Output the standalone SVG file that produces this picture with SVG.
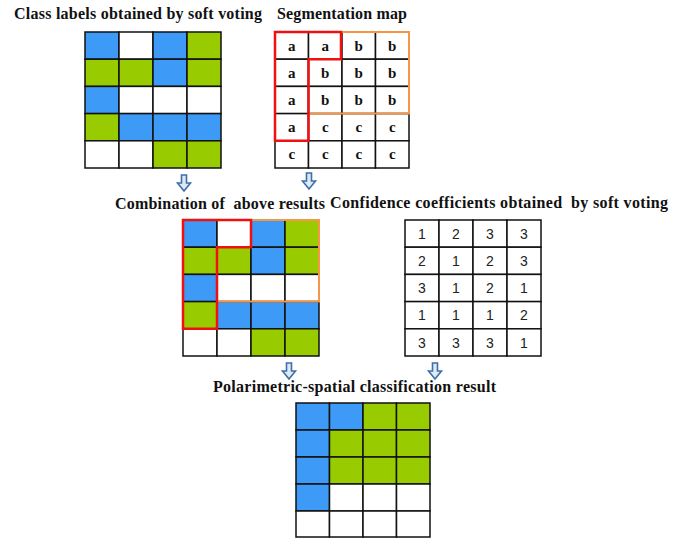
<svg xmlns="http://www.w3.org/2000/svg" width="685" height="538" viewBox="0 0 685 538">
<defs>
<style>
.t{font-family:"Liberation Serif","Times New Roman",serif;font-weight:bold;font-size:16px;fill:#111;white-space:pre}
.b{fill:#3d9bf7;stroke:#111;stroke-width:1.5}
.g{fill:#99cc00;stroke:#111;stroke-width:1.5}
.w{fill:#fff;stroke:#111;stroke-width:1.5}
.lt{font-family:"Liberation Serif","Times New Roman",serif;font-weight:bold;font-size:15px;fill:#111;text-anchor:middle}
.nm{font-family:"Liberation Sans",Arial,sans-serif;font-size:14px;fill:#222;text-anchor:middle}
.red{fill:none;stroke:#f01010;stroke-width:2.5}
.org{fill:none;stroke:#f79646;stroke-width:2}
.arr{fill:#dce9f7;stroke:#3f6ea8;stroke-width:1.6;stroke-linejoin:miter}
</style>
<path id="dn" class="arr" d="M-2.5,0 H2.5 V8 H6.5 L0,16 L-6.5,8 H-2.5 Z"/>
</defs>
<rect width="685" height="538" fill="#fff"/>

<g id="class-labels">
<text class="t" x="14" y="19" textLength="248" lengthAdjust="spacing">Class labels obtained by soft voting</text>
<rect class="b" x="85" y="32" width="34" height="27.2"/><rect class="w" x="119" y="32" width="34" height="27.2"/><rect class="b" x="153" y="32" width="34" height="27.2"/><rect class="g" x="187" y="32" width="34" height="27.2"/>
<rect class="g" x="85" y="59.2" width="34" height="27.2"/><rect class="g" x="119" y="59.2" width="34" height="27.2"/><rect class="b" x="153" y="59.2" width="34" height="27.2"/><rect class="g" x="187" y="59.2" width="34" height="27.2"/>
<rect class="b" x="85" y="86.4" width="34" height="27.2"/><rect class="w" x="119" y="86.4" width="34" height="27.2"/><rect class="w" x="153" y="86.4" width="34" height="27.2"/><rect class="w" x="187" y="86.4" width="34" height="27.2"/>
<rect class="g" x="85" y="113.6" width="34" height="27.2"/><rect class="b" x="119" y="113.6" width="34" height="27.2"/><rect class="b" x="153" y="113.6" width="34" height="27.2"/><rect class="b" x="187" y="113.6" width="34" height="27.2"/>
<rect class="w" x="85" y="140.8" width="34" height="27.2"/><rect class="w" x="119" y="140.8" width="34" height="27.2"/><rect class="g" x="153" y="140.8" width="34" height="27.2"/><rect class="g" x="187" y="140.8" width="34" height="27.2"/>
</g>

<g id="segmentation-map">
<text class="t" x="277" y="19" textLength="130" lengthAdjust="spacing">Segmentation map</text>
<rect class="w" x="275" y="32" width="33.5" height="27.2"/><rect class="w" x="308.5" y="32" width="33.5" height="27.2"/><rect class="w" x="342" y="32" width="33.5" height="27.2"/><rect class="w" x="375.5" y="32" width="33.5" height="27.2"/>
<rect class="w" x="275" y="59.2" width="33.5" height="27.2"/><rect class="w" x="308.5" y="59.2" width="33.5" height="27.2"/><rect class="w" x="342" y="59.2" width="33.5" height="27.2"/><rect class="w" x="375.5" y="59.2" width="33.5" height="27.2"/>
<rect class="w" x="275" y="86.4" width="33.5" height="27.2"/><rect class="w" x="308.5" y="86.4" width="33.5" height="27.2"/><rect class="w" x="342" y="86.4" width="33.5" height="27.2"/><rect class="w" x="375.5" y="86.4" width="33.5" height="27.2"/>
<rect class="w" x="275" y="113.6" width="33.5" height="27.2"/><rect class="w" x="308.5" y="113.6" width="33.5" height="27.2"/><rect class="w" x="342" y="113.6" width="33.5" height="27.2"/><rect class="w" x="375.5" y="113.6" width="33.5" height="27.2"/>
<rect class="w" x="275" y="140.8" width="33.5" height="27.2"/><rect class="w" x="308.5" y="140.8" width="33.5" height="27.2"/><rect class="w" x="342" y="140.8" width="33.5" height="27.2"/><rect class="w" x="375.5" y="140.8" width="33.5" height="27.2"/>
<text class="lt" x="291.75" y="50.6">a</text><text class="lt" x="325.25" y="50.6">a</text><text class="lt" x="358.75" y="50.6">b</text><text class="lt" x="392.25" y="50.6">b</text>
<text class="lt" x="291.75" y="77.8">a</text><text class="lt" x="325.25" y="77.8">b</text><text class="lt" x="358.75" y="77.8">b</text><text class="lt" x="392.25" y="77.8">b</text>
<text class="lt" x="291.75" y="105">a</text><text class="lt" x="325.25" y="105">b</text><text class="lt" x="358.75" y="105">b</text><text class="lt" x="392.25" y="105">b</text>
<text class="lt" x="291.75" y="132.2">a</text><text class="lt" x="325.25" y="132.2">c</text><text class="lt" x="358.75" y="132.2">c</text><text class="lt" x="392.25" y="132.2">c</text>
<text class="lt" x="291.75" y="159.4">c</text><text class="lt" x="325.25" y="159.4">c</text><text class="lt" x="358.75" y="159.4">c</text><text class="lt" x="392.25" y="159.4">c</text>
<path class="org" d="M342,32 H409 V113.6 H308.5"/>
<path class="red" d="M275,32 H341 V59.2 H308.5 V140.8 H275 Z"/>
</g>

<g id="combination">
<text class="t" x="115" y="209" textLength="210" lengthAdjust="spacing">Combination of  above results</text>
<rect class="b" x="183" y="220" width="34" height="27.2"/><rect class="w" x="217" y="220" width="34" height="27.2"/><rect class="b" x="251" y="220" width="34" height="27.2"/><rect class="g" x="285" y="220" width="34" height="27.2"/>
<rect class="g" x="183" y="247.2" width="34" height="27.2"/><rect class="g" x="217" y="247.2" width="34" height="27.2"/><rect class="b" x="251" y="247.2" width="34" height="27.2"/><rect class="g" x="285" y="247.2" width="34" height="27.2"/>
<rect class="b" x="183" y="274.4" width="34" height="27.2"/><rect class="w" x="217" y="274.4" width="34" height="27.2"/><rect class="w" x="251" y="274.4" width="34" height="27.2"/><rect class="w" x="285" y="274.4" width="34" height="27.2"/>
<rect class="g" x="183" y="301.6" width="34" height="27.2"/><rect class="b" x="217" y="301.6" width="34" height="27.2"/><rect class="b" x="251" y="301.6" width="34" height="27.2"/><rect class="b" x="285" y="301.6" width="34" height="27.2"/>
<rect class="w" x="183" y="328.8" width="34" height="27.2"/><rect class="w" x="217" y="328.8" width="34" height="27.2"/><rect class="g" x="251" y="328.8" width="34" height="27.2"/><rect class="g" x="285" y="328.8" width="34" height="27.2"/>
<path class="org" d="M251,220 H319 V301.6 H217"/>
<path class="red" d="M183,220 H251 V247.2 H217 V328.8 H183 Z"/>
</g>

<g id="confidence">
<text class="t" x="330" y="208" textLength="338" lengthAdjust="spacing">Confidence coefficients obtained  by soft voting</text>
<rect class="w" x="405" y="220" width="34" height="27.2"/><rect class="w" x="439" y="220" width="34" height="27.2"/><rect class="w" x="473" y="220" width="34" height="27.2"/><rect class="w" x="507" y="220" width="34" height="27.2"/>
<rect class="w" x="405" y="247.2" width="34" height="27.2"/><rect class="w" x="439" y="247.2" width="34" height="27.2"/><rect class="w" x="473" y="247.2" width="34" height="27.2"/><rect class="w" x="507" y="247.2" width="34" height="27.2"/>
<rect class="w" x="405" y="274.4" width="34" height="27.2"/><rect class="w" x="439" y="274.4" width="34" height="27.2"/><rect class="w" x="473" y="274.4" width="34" height="27.2"/><rect class="w" x="507" y="274.4" width="34" height="27.2"/>
<rect class="w" x="405" y="301.6" width="34" height="27.2"/><rect class="w" x="439" y="301.6" width="34" height="27.2"/><rect class="w" x="473" y="301.6" width="34" height="27.2"/><rect class="w" x="507" y="301.6" width="34" height="27.2"/>
<rect class="w" x="405" y="328.8" width="34" height="27.2"/><rect class="w" x="439" y="328.8" width="34" height="27.2"/><rect class="w" x="473" y="328.8" width="34" height="27.2"/><rect class="w" x="507" y="328.8" width="34" height="27.2"/>
<text class="nm" x="422" y="238.8">1</text><text class="nm" x="456" y="238.8">2</text><text class="nm" x="490" y="238.8">3</text><text class="nm" x="524" y="238.8">3</text>
<text class="nm" x="422" y="266">2</text><text class="nm" x="456" y="266">1</text><text class="nm" x="490" y="266">2</text><text class="nm" x="524" y="266">3</text>
<text class="nm" x="422" y="293.2">3</text><text class="nm" x="456" y="293.2">1</text><text class="nm" x="490" y="293.2">2</text><text class="nm" x="524" y="293.2">1</text>
<text class="nm" x="422" y="320.4">1</text><text class="nm" x="456" y="320.4">1</text><text class="nm" x="490" y="320.4">1</text><text class="nm" x="524" y="320.4">2</text>
<text class="nm" x="422" y="347.6">3</text><text class="nm" x="456" y="347.6">3</text><text class="nm" x="490" y="347.6">3</text><text class="nm" x="524" y="347.6">1</text>
</g>

<g id="result">
<text class="t" x="213" y="392" textLength="283" lengthAdjust="spacing">Polarimetric-spatial classification result</text>
<rect class="b" x="296" y="403" width="33.5" height="27"/><rect class="b" x="329.5" y="403" width="33.5" height="27"/><rect class="g" x="363" y="403" width="33.5" height="27"/><rect class="g" x="396.5" y="403" width="33.5" height="27"/>
<rect class="b" x="296" y="430" width="33.5" height="27"/><rect class="g" x="329.5" y="430" width="33.5" height="27"/><rect class="g" x="363" y="430" width="33.5" height="27"/><rect class="g" x="396.5" y="430" width="33.5" height="27"/>
<rect class="b" x="296" y="457" width="33.5" height="27"/><rect class="g" x="329.5" y="457" width="33.5" height="27"/><rect class="g" x="363" y="457" width="33.5" height="27"/><rect class="g" x="396.5" y="457" width="33.5" height="27"/>
<rect class="b" x="296" y="484" width="33.5" height="27"/><rect class="w" x="329.5" y="484" width="33.5" height="27"/><rect class="w" x="363" y="484" width="33.5" height="27"/><rect class="w" x="396.5" y="484" width="33.5" height="27"/>
<rect class="w" x="296" y="511" width="33.5" height="26"/><rect class="w" x="329.5" y="511" width="33.5" height="26"/><rect class="w" x="363" y="511" width="33.5" height="26"/><rect class="w" x="396.5" y="511" width="33.5" height="26"/>
</g>

<g id="connectors">
<use href="#dn" x="184" y="175"/>
<use href="#dn" x="309" y="173"/>
<use href="#dn" x="289" y="363"/>
<use href="#dn" x="435" y="363"/>
</g>
</svg>
